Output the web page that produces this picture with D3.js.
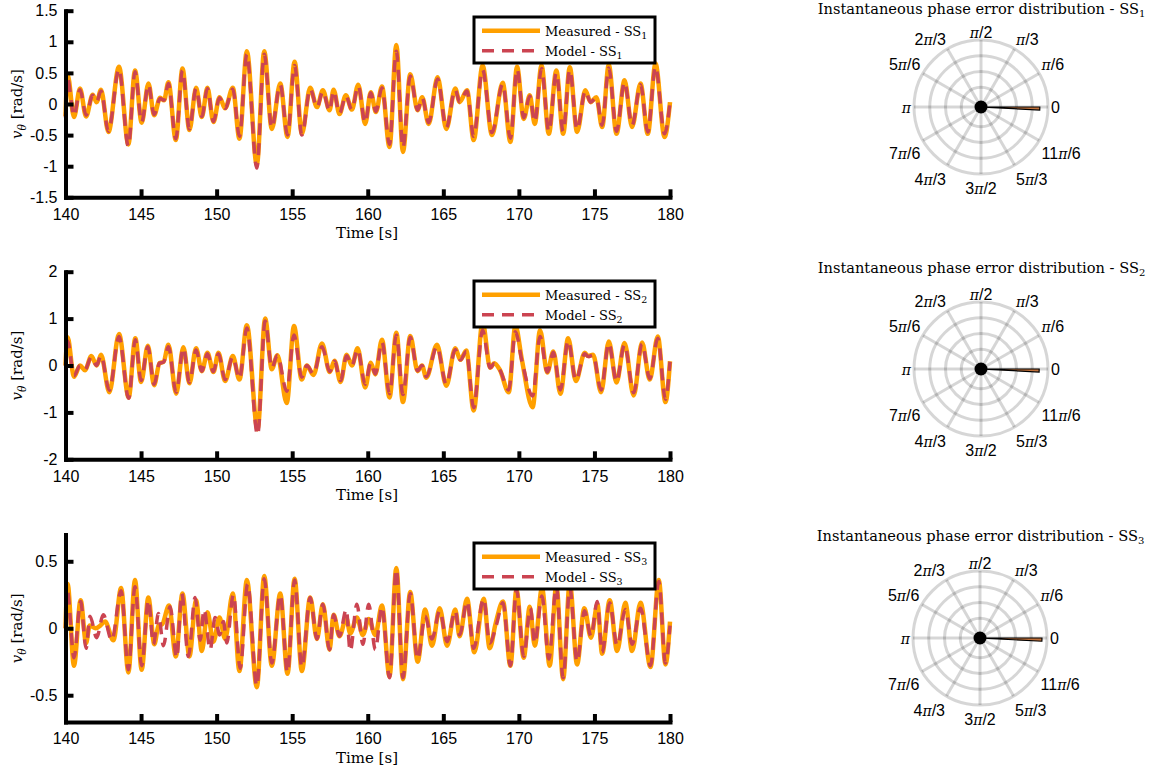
<!DOCTYPE html>
<html>
<head>
<meta charset="utf-8">
<script src="https://cdn.jsdelivr.net/npm/d3@7"></script>
<style>
body { margin: 0; background: #fff; }
svg { display: block; }
</style>
</head>
<body>
<div id="chart"></div>
<script>
const WIDTH = 1153
const HEIGHT = 773
const ORANGE = '#ffa000'
const RED = '#cb4451'
const SANS = 'Liberation Sans, Arial, sans-serif'
const SERIF = 'DejaVu Serif, serif'

// ---- time axis ----
const timeDomain = [140, 180]
const timeTicks = [140, 145, 150, 155, 160, 165, 170, 175, 180]

// ---- SS1 (extrema) ----
const t1 = [140.00, 140.14, 140.56, 140.96, 141.36, 141.80, 142.06, 142.35, 142.84, 143.54, 144.16, 144.60, 145.04, 145.49, 145.86, 146.26, 146.52, 146.81, 147.30, 147.74, 148.20, 148.64, 149.02, 149.39, 149.79, 150.19, 150.56, 151.07, 151.51, 152.00, 152.66, 153.15, 153.65, 154.21, 154.69, 155.16, 155.64, 156.19, 156.64, 157.03, 157.47, 157.74, 158.13, 158.55, 158.95, 159.37, 159.83, 160.20, 160.54, 160.94, 161.44, 161.89, 162.33, 162.81, 163.30, 163.60, 164.03, 164.62, 165.20, 165.79, 166.08, 166.57, 167.01, 167.60, 168.22, 168.93, 169.44, 169.88, 170.32, 170.72, 171.05, 171.50, 171.98, 172.48, 172.93, 173.37, 173.85, 174.40, 174.74, 175.13, 175.51, 175.95, 176.46, 176.99, 177.49, 178.05, 178.53, 179.04, 179.64, 180.00]
const measured1 = [-0.20, 0.47, -0.21, 0.25, -0.20, 0.15, 0.03, 0.23, -0.45, 0.60, -0.65, 0.54, -0.30, 0.33, -0.18, 0.10, 0.06, 0.35, -0.58, 0.57, -0.42, 0.26, -0.21, 0.26, -0.29, 0.11, -0.07, 0.26, -0.56, 0.85, -0.98, 0.85, -0.40, 0.33, -0.53, 0.68, -0.48, 0.26, -0.05, 0.22, -0.10, 0.23, -0.16, 0.14, -0.09, 0.31, -0.32, 0.19, -0.13, 0.28, -0.69, 0.95, -0.77, 0.48, -0.10, 0.11, -0.32, 0.43, -0.40, 0.25, 0.03, 0.22, -0.58, 0.62, -0.50, 0.34, -0.61, 0.60, -0.24, 0.14, -0.32, 0.62, -0.48, 0.54, -0.48, 0.59, -0.45, 0.22, 0.03, 0.11, -0.37, 0.63, -0.48, 0.38, -0.37, 0.33, -0.48, 0.65, -0.53, 0.03]
const model1 = [-0.22, 0.40, -0.19, 0.23, -0.18, 0.14, 0.04, 0.21, -0.44, 0.56, -0.68, 0.52, -0.29, 0.31, -0.17, 0.09, 0.06, 0.33, -0.56, 0.54, -0.40, 0.25, -0.20, 0.25, -0.28, 0.10, -0.07, 0.24, -0.52, 0.80, -1.03, 0.80, -0.38, 0.31, -0.50, 0.62, -0.50, 0.24, -0.05, 0.20, -0.11, 0.21, -0.15, 0.13, -0.09, 0.29, -0.30, 0.18, -0.12, 0.26, -0.65, 0.85, -0.70, 0.45, -0.10, 0.10, -0.30, 0.40, -0.38, 0.23, 0.03, 0.21, -0.52, 0.55, -0.46, 0.32, -0.55, 0.56, -0.22, 0.13, -0.29, 0.57, -0.44, 0.50, -0.44, 0.55, -0.41, 0.21, 0.03, 0.10, -0.34, 0.58, -0.44, 0.35, -0.34, 0.31, -0.45, 0.60, -0.48, 0.02]

// ---- SS2 ----
const t2 = [140.00, 140.14, 140.56, 140.96, 141.29, 141.71, 142.06, 142.35, 142.90, 143.54, 144.18, 144.62, 145.00, 145.45, 145.86, 146.22, 146.49, 146.81, 147.32, 147.80, 148.20, 148.64, 149.02, 149.39, 149.79, 150.12, 150.56, 151.07, 151.51, 152.00, 152.71, 153.21, 153.65, 154.02, 154.64, 155.12, 155.63, 155.97, 156.41, 156.97, 157.49, 157.80, 158.20, 158.60, 158.95, 159.33, 159.83, 160.20, 160.50, 160.94, 161.44, 161.89, 162.33, 162.81, 163.30, 163.59, 163.87, 164.58, 165.20, 165.79, 166.13, 166.52, 167.01, 167.60, 168.10, 168.37, 168.75, 169.33, 169.77, 170.20, 170.91, 171.40, 171.88, 172.28, 172.75, 173.26, 173.77, 174.36, 174.58, 174.91, 175.44, 175.95, 176.46, 176.99, 177.60, 178.15, 178.66, 179.19, 179.70, 180.00]
const measured2 = [0.00, 0.60, -0.24, 0.00, -0.10, 0.20, 0.00, 0.23, -0.57, 0.67, -0.68, 0.58, -0.35, 0.42, -0.42, 0.05, 0.08, 0.44, -0.60, 0.39, -0.38, 0.37, -0.12, 0.27, -0.14, 0.27, -0.33, 0.20, -0.30, 0.86, -1.36, 1.00, -0.08, 0.22, -0.80, 0.84, -0.30, 0.00, -0.20, 0.47, -0.14, 0.10, -0.35, 0.23, 0.00, 0.37, -0.47, 0.06, -0.19, 0.55, -0.68, 0.70, -0.78, 0.63, -0.12, 0.00, -0.26, 0.44, -0.43, 0.37, 0.12, 0.32, -0.96, 0.92, -0.05, 0.05, -0.10, -0.57, 0.85, 0.12, -0.89, 0.75, -0.15, 0.30, -0.60, 0.58, -0.33, 0.27, 0.20, 0.23, -0.57, 0.51, -0.36, 0.48, -0.64, 0.49, -0.30, 0.62, -0.78, 0.09]
const model2 = [0.00, 0.52, -0.22, 0.00, -0.09, 0.18, 0.00, 0.21, -0.53, 0.62, -0.70, 0.55, -0.32, 0.40, -0.40, 0.05, 0.07, 0.40, -0.57, 0.37, -0.36, 0.33, -0.12, 0.25, -0.13, 0.25, -0.30, 0.18, -0.28, 0.80, -1.48, 0.95, -0.05, 0.22, -0.55, 0.65, -0.25, 0.00, -0.18, 0.40, -0.13, 0.09, -0.32, 0.21, 0.00, 0.34, -0.40, 0.06, -0.18, 0.50, -0.60, 0.65, -0.62, 0.60, -0.11, 0.00, -0.24, 0.40, -0.40, 0.34, 0.12, 0.30, -0.90, 0.75, -0.05, 0.04, -0.10, -0.52, 0.72, 0.10, -0.65, 0.62, -0.14, 0.28, -0.52, 0.53, -0.31, 0.25, 0.19, 0.22, -0.52, 0.47, -0.34, 0.44, -0.58, 0.46, -0.28, 0.58, -0.72, 0.08]

// ---- SS3 (measured and model have their own extrema) ----
const t3Measured = [140.00, 140.14, 140.56, 141.00, 141.36, 141.60, 142.00, 142.30, 142.62, 143.17, 143.68, 144.16, 144.60, 145.04, 145.48, 145.88, 146.15, 146.40, 146.85, 147.30, 147.74, 148.20, 148.64, 149.02, 149.39, 149.79, 150.19, 150.56, 151.07, 151.51, 152.00, 152.66, 153.15, 153.65, 154.21, 154.69, 155.16, 155.64, 156.19, 156.64, 157.03, 157.47, 157.74, 158.13, 158.58, 158.84, 159.28, 159.68, 160.06, 160.50, 160.94, 161.44, 161.89, 162.33, 162.81, 163.30, 163.80, 164.25, 164.76, 165.25, 165.79, 166.08, 166.57, 167.05, 167.67, 168.07, 168.45, 168.95, 169.44, 169.84, 170.32, 170.72, 171.05, 171.53, 172.04, 172.48, 172.93, 173.37, 173.85, 174.33, 174.77, 175.20, 175.51, 176.01, 176.50, 177.05, 177.49, 178.05, 178.71, 179.26, 179.70, 180.00]
const measured3 = [0.00, 0.33, -0.28, 0.21, -0.11, 0.02, 0.00, 0.02, 0.05, -0.09, 0.30, -0.33, 0.36, -0.31, 0.23, -0.12, 0.02, 0.03, 0.17, -0.21, 0.26, -0.21, 0.21, -0.17, 0.12, -0.10, 0.08, -0.08, 0.26, -0.32, 0.36, -0.44, 0.39, -0.28, 0.26, -0.34, 0.37, -0.32, 0.23, -0.08, 0.18, -0.16, 0.10, -0.06, 0.08, -0.04, 0.08, -0.05, 0.07, -0.05, 0.17, -0.36, 0.45, -0.38, 0.27, -0.25, 0.14, -0.13, 0.15, -0.13, 0.14, -0.06, 0.22, -0.18, 0.22, -0.15, 0.03, 0.20, -0.28, 0.29, -0.22, 0.16, -0.13, 0.30, -0.28, 0.32, -0.38, 0.34, -0.27, 0.15, -0.07, 0.18, -0.19, 0.21, -0.17, 0.19, -0.17, 0.19, -0.29, 0.36, -0.27, 0.05]
const t3Model = [140.00, 140.12, 140.56, 141.00, 141.36, 141.62, 142.06, 142.50, 143.06, 143.68, 144.16, 144.60, 145.04, 145.49, 145.82, 146.15, 146.48, 146.92, 147.36, 147.69, 148.13, 148.58, 148.91, 149.17, 149.57, 149.90, 150.20, 150.45, 150.67, 151.11, 151.56, 152.05, 152.66, 153.15, 153.65, 154.21, 154.69, 155.16, 155.64, 156.19, 156.64, 157.03, 157.47, 157.74, 158.13, 158.58, 158.84, 159.28, 159.68, 160.06, 160.50, 160.94, 161.44, 161.89, 162.33, 162.81, 163.30, 163.80, 164.25, 164.76, 165.25, 165.79, 166.08, 166.57, 167.01, 167.67, 168.07, 168.50, 168.95, 169.44, 169.84, 170.32, 170.76, 171.05, 171.53, 171.98, 172.48, 172.93, 173.37, 173.85, 174.34, 174.78, 175.18, 175.51, 176.01, 176.50, 177.05, 177.49, 178.05, 178.71, 179.26, 179.70, 180.00]
const model3 = [0.00, 0.28, -0.22, 0.20, -0.15, 0.09, -0.07, 0.10, -0.09, 0.28, -0.31, 0.31, -0.28, 0.21, -0.12, 0.11, -0.13, 0.16, -0.22, 0.26, -0.21, 0.23, -0.09, 0.14, -0.16, 0.08, -0.05, 0.05, -0.11, 0.25, -0.30, 0.33, -0.43, 0.37, -0.26, 0.25, -0.33, 0.36, -0.29, 0.23, -0.08, 0.18, -0.16, 0.10, -0.06, 0.14, -0.17, 0.18, -0.12, 0.18, -0.16, 0.16, -0.37, 0.44, -0.37, 0.26, -0.23, 0.09, -0.08, 0.13, -0.10, 0.13, -0.05, 0.20, -0.15, 0.22, -0.11, 0.02, 0.19, -0.28, 0.29, -0.21, 0.15, -0.11, 0.24, -0.23, 0.31, -0.37, 0.30, -0.25, 0.13, -0.06, 0.20, -0.18, 0.19, -0.13, 0.14, -0.12, 0.15, -0.28, 0.35, -0.26, 0.02]

// ---- phase error histograms (one narrow bin just below 0 rad) ----
const rTicks = [0.25, 0.5, 0.75, 1]
const angleTicksDeg = [0, 30, 60, 90, 120, 150, 180, 210, 240, 270, 300, 330]
const angleLabels = ['0', 'π/6', 'π/3', 'π/2', '2π/3', '5π/6', 'π', '7π/6', '4π/3', '3π/2', '5π/3', '11π/6']
const binEdgesDeg = [-3, 0]
const binCounts = [0.87, 0.86, 0.92]

const panels = [
    { top: 10.7, bottom: 197.3, domain: [-1.5, 1.5], ticks: [-1.5, -1, -0.5, 0, 0.5, 1, 1.5],
      tMeas: t1, vMeas: measured1, tModel: t1, vModel: model1, ss: '1', legendTop: 17,
      cx: 981, cy: 107, titleY: 14 },
    { top: 271.7, bottom: 459.3, domain: [-2, 2], ticks: [-2, -1, 0, 1, 2],
      tMeas: t2, vMeas: measured2, tModel: t2, vModel: model2, ss: '2', legendTop: 281,
      cx: 981, cy: 369, titleY: 273 },
    { top: 534.5, bottom: 722, domain: [-0.7, 0.7], ticks: [-0.5, 0, 0.5],
      tMeas: t3Measured, vMeas: measured3, tModel: t3Model, vModel: model3, ss: '3', legendTop: 543,
      cx: 980, cy: 638, titleY: 541 }
]

var svg = d3.select("#chart").append("svg")
    .attr("width", WIDTH)
    .attr("height", HEIGHT)

var xScale = d3.scaleLinear().domain(timeDomain).range([65.5, 670])

const drawPanel = (p) => {
    var yScale = d3.scaleLinear().domain(p.domain).range([p.bottom, p.top])
    var g = svg.append("g")

    var line = d3.line()
        .x(d => xScale(d[0]))
        .y(d => yScale(d[1]))
        .curve(d3.curveMonotoneX)

    g.append("path")
        .datum(d3.zip(p.tMeas, p.vMeas))
        .attr("fill", "none")
        .attr("stroke", ORANGE)
        .attr("stroke-width", 4.5)
        .attr("stroke-linejoin", "round")
        .attr("d", line)

    g.append("path")
        .datum(d3.zip(p.tModel, p.vModel))
        .attr("fill", "none")
        .attr("stroke", RED)
        .attr("stroke-width", 3.5)
        .attr("stroke-dasharray", "12,8")
        .attr("d", line)

    // axes, thick with inward ticks
    var xAxis = g.append("g")
        .attr("transform", `translate(0,${p.bottom})`)
        .call(d3.axisBottom(xScale).tickValues(timeTicks).tickSize(-8).tickSizeOuter(0).tickPadding(11).tickFormat(d => String(d)))
    var yAxis = g.append("g")
        .attr("transform", `translate(${xScale(140)},0)`)
        .call(d3.axisLeft(yScale).tickValues(p.ticks).tickSize(-8).tickSizeOuter(0).tickPadding(8).tickFormat(d => String(d)))

    ;[xAxis, yAxis].forEach(a => {
        a.attr("font-family", SANS).attr("font-size", 16)
        a.select(".domain").attr("stroke", "#000").attr("stroke-width", 4).attr("stroke-linecap", "square")
        a.selectAll(".tick line").attr("stroke", "#000").attr("stroke-width", 4)
        a.selectAll(".tick text").attr("fill", "#000")
    })

    g.append("text")
        .attr("x", 367)
        .attr("y", p.bottom + 41)
        .attr("text-anchor", "middle")
        .attr("font-family", SERIF)
        .attr("font-size", 15)
        .text("Time [s]")

    var yl = g.append("text")
        .attr("transform", `translate(22,${(p.top + p.bottom) / 2}) rotate(-90)`)
        .attr("text-anchor", "middle")
        .attr("font-family", SERIF)
        .attr("font-size", 15)
        .attr("fill", "#000")
    yl.append("tspan").attr("font-style", "italic").text("v")
    yl.append("tspan").attr("font-style", "italic").attr("font-size", 10.5).attr("dy", 4).text("θ")
    yl.append("tspan").attr("dy", -4).text(" [rad/s]")

    // legend
    var lg = g.append("g").attr("transform", `translate(474,${p.legendTop})`)
    lg.append("rect")
        .attr("width", 181).attr("height", 46)
        .attr("fill", "#fff").attr("stroke", "#000").attr("stroke-width", 3)
    var rows = [
        { label: "Measured - SS", color: ORANGE, width: 4.5, dash: null },
        { label: "Model - SS", color: RED, width: 3.5, dash: "12,8" }
    ]
    rows.forEach((row, i) => {
        var yy = 13.7 + i * 20
        lg.append("line")
            .attr("x1", 8).attr("x2", 66).attr("y1", yy).attr("y2", yy)
            .attr("stroke", row.color).attr("stroke-width", row.width)
            .attr("stroke-dasharray", row.dash)
        var tx = lg.append("text")
            .attr("x", 71).attr("y", yy + 5)
            .attr("font-family", SERIF).attr("font-size", 13).attr("fill", "#000")
        tx.append("tspan").text(row.label)
        tx.append("tspan").attr("font-size", 9.5).attr("dy", 3).text(p.ss)
    })
}

const drawPolar = (p, count) => {
    var rScale = d3.scaleLinear().domain([0, 1]).range([4, 67])
    var g = svg.append("g").attr("transform", `translate(${p.cx},${p.cy})`)

    g.selectAll("circle.ring")
        .data(rTicks)
        .enter()
        .append("circle")
            .attr("r", d => rScale(d))
            .attr("fill", "none")
            .attr("stroke", "#000")
            .attr("stroke-opacity", 0.16)
            .attr("stroke-width", 3)

    g.selectAll("line.spoke")
        .data(angleTicksDeg)
        .enter()
        .append("line")
            .attr("x1", 0).attr("y1", 0)
            .attr("x2", d => rScale(1) * Math.cos(d * Math.PI / 180))
            .attr("y2", d => -rScale(1) * Math.sin(d * Math.PI / 180))
            .attr("stroke", "#000")
            .attr("stroke-opacity", 0.16)
            .attr("stroke-width", 3)

    // histogram bin (d3.arc angles run clockwise from 12 o'clock)
    var arc = d3.arc()
        .innerRadius(rScale(0))
        .outerRadius(rScale(count))
        .startAngle(Math.PI / 2 - binEdgesDeg[1] * Math.PI / 180)
        .endAngle(Math.PI / 2 - binEdgesDeg[0] * Math.PI / 180)
    g.append("path")
        .attr("d", arc())
        .attr("fill", "#c0703a")
        .attr("stroke", "#000")
        .attr("stroke-width", 1.2)

    g.append("circle").attr("r", 6.5).attr("fill", "#000")

    angleTicksDeg.forEach((deg, i) => {
        var a = deg * Math.PI / 180
        var c = Math.cos(a), s = Math.sin(a)
        var anchor = c > 0.1 ? "start" : (c < -0.1 ? "end" : "middle")
        var ry = 78 + 22 * (1 - Math.abs(s))
        var t = g.append("text")
            .attr("x", 70 * c)
            .attr("y", -ry * s + 3 * Math.abs(s))
            .attr("dy", "0.36em")
            .attr("text-anchor", anchor)
            .attr("font-family", SANS)
            .attr("font-size", 16)
            .attr("fill", "#000")
        var parts = angleLabels[i].split("π")
        if (parts.length === 1) {
            t.text(parts[0])
        } else {
            if (parts[0]) t.append("tspan").text(parts[0])
            t.append("tspan").attr("font-family", SERIF).attr("font-style", "italic").attr("font-size", 14).text("π")
            if (parts[1]) t.append("tspan").text(parts[1])
        }
    })

    var title = svg.append("text")
        .attr("x", p.cx + 0.5)
        .attr("y", p.titleY)
        .attr("text-anchor", "middle")
        .attr("font-family", SERIF)
        .attr("font-size", 14.6)
        .attr("fill", "#000")
    title.append("tspan").text("Instantaneous phase error distribution - SS")
    title.append("tspan").attr("font-size", 10).attr("dy", 3).text(p.ss)
}

panels.forEach((p, i) => {
    drawPanel(p)
    drawPolar(p, binCounts[i])
})
</script>
</body>
</html>
